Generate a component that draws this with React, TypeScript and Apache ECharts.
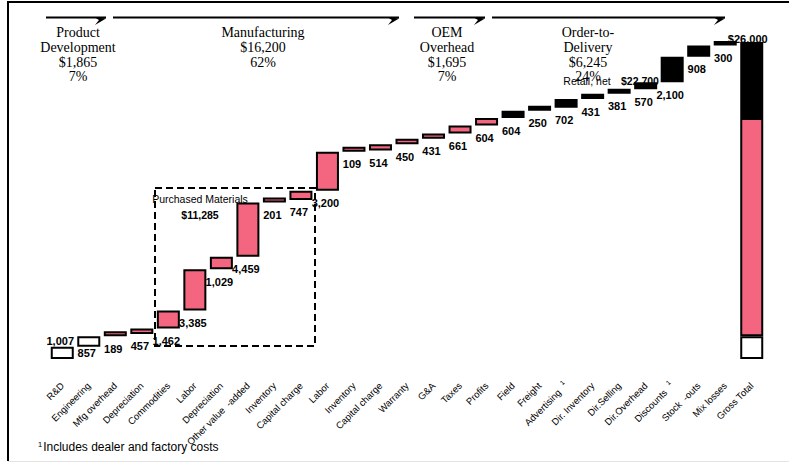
import React, { useEffect, useRef } from "react";
import * as echarts from "echarts";

// ---------- data ----------
const categories = [
  "R&D", "Engineering", "Mfg overhead", "Depreciation", "Commodities", "Labor",
  "Depreciation", "Other value  -added", "Inventory", "Capital charge", "Labor",
  "Inventory", "Capital charge", "Warranty", "G&A", "Taxes", "Profits", "Field",
  "Freight", "Advertising", "Dir. Inventory", "Dir.Selling", "Dir.Overhead",
  "Discounts", "Stock  -outs", "Mix losses", "Gross Total",
];
const footnotedCategories = ["Advertising", "Discounts"];
const stepValues = [
  1007, 857, 189, 457, 1462, 3385, 1029, 4459, 201, 747, 3200, 109, 514, 450,
  431, 661, 604, 604, 250, 702, 431, 381, 570, 2100, 908, 300,
];
// phase of each step: d = product development, m = manufacturing, o = OEM overhead, t = order-to-delivery
const stepPhase = [
  "d", "d", "m", "m", "m", "m", "m", "m", "m", "m", "m", "m", "m", "m",
  "o", "o", "o", "t", "t", "t", "t", "t", "t", "t", "t", "t",
];
const grossTotal = 26000;
const grossParts = [1865, 17895, 6245]; // development, manufacturing + OEM, order-to-delivery
const phaseHeaders = [
  { lines: ["Product", "Development", "$1,865", "7%"] },
  { lines: ["Manufacturing", "$16,200", "62%"] },
  { lines: ["OEM", "Overhead", "$1,695", "7%"] },
  { lines: ["Order-to-", "Delivery", "$6,245", "24%"] },
];
const purchasedMaterialsLabel = ["Purchased Materials", "$11,285"];
const retailNetLabel = ["Retail, net", "$22,700"];
const footnote = "Includes dealer and factory costs";

// ---------- styles ----------
const PINK = "#F4667F";
const NARROW = "'Liberation Sans Narrow', 'Arial Narrow', 'Liberation Sans', Arial, sans-serif";
const SERIF = "'Liberation Serif', 'Times New Roman', serif";
const phaseColor: Record<string, string> = { d: "#ffffff", m: PINK, o: PINK, t: "#000000" };

function buildOption() {
  const n = categories.length;
  const base: (number | string)[] = [];
  let run = 0;
  stepValues.forEach((v) => {
    base.push(run);
    run += v;
  });
  base.push(0);

  const stepData: any[] = stepValues.map((v, i) => {
    const item: any = {
      value: v,
      itemStyle: { color: phaseColor[stepPhase[i]], borderColor: "#000", borderWidth: 2 },
    };
    if (i === 0) item.label = { position: "top", distance: 0, offset: [-2, 0] };
    if (i === 1) item.label = { distance: 1 };
    return item;
  });
  stepData.push("-");

  const only = (v: number) => categories.map((_, i) => (i === n - 1 ? v : "-"));

  const barWidth = 23;
  const valueLabel = {
    show: true,
    position: "bottom",
    distance: 7,
    offset: [-2, 0],
    fontFamily: NARROW,
    fontSize: 11,
    fontWeight: "bold",
    color: "#000",
    formatter: (p: any) => Number(p.value).toLocaleString("en-US"),
  };

  const graphic: any[] = [];
  // frame
  graphic.push({ type: "line", z: 0, shape: { x1: 7, y1: 2, x2: 789, y2: 2 }, style: { stroke: "#000", lineWidth: 2 } });
  graphic.push({ type: "line", z: 0, shape: { x1: 8, y1: 1, x2: 8, y2: 461 }, style: { stroke: "#000", lineWidth: 2 } });
  graphic.push({ type: "line", z: 0, shape: { x1: 8, y1: 461.5, x2: 789, y2: 461.5 }, style: { stroke: "#e4e4e4", lineWidth: 1 } });

  // phase arrows
  const arrowSpans = [[46, 106], [113, 399], [414, 485], [492, 725]];
  const headerCenters = [78, 263, 447, 588];
  arrowSpans.forEach(([a, b]) => {
    graphic.push({ type: "line", z: 5, shape: { x1: a, y1: 17.5, x2: b, y2: 17.5 }, style: { stroke: "#000", lineWidth: 2 } });
    graphic.push({
      type: "polygon", z: 5,
      shape: { points: [[b - 12, 17], [b, 18.5], [b - 11, 25], [b - 7, 20]] },
      style: { fill: "#000" },
    });
  });
  phaseHeaders.forEach((h, i) => {
    graphic.push({
      type: "text", z: 5,
      style: {
        text: h.lines.join("\n"), x: headerCenters[i], y: 25.5,
        align: "center", textAlign: "center", verticalAlign: "top", textVerticalAlign: "top",
        fontFamily: SERIF, fontSize: 14, lineHeight: 14.7, fill: "#000",
      },
    });
  });

  // purchased materials box
  graphic.push({
    type: "rect", z: 0,
    shape: { x: 155, y: 188, width: 160, height: 158 },
    style: { fill: "none", stroke: "#000", lineWidth: 2, lineDash: [7, 4] },
  });
  graphic.push({
    type: "text", z: 5,
    style: {
      text: purchasedMaterialsLabel[0], x: 200, y: 199, align: "center", textAlign: "center",
      verticalAlign: "middle", textVerticalAlign: "middle", fontFamily: NARROW, fontSize: 10.5, fill: "#000",
    },
  });
  graphic.push({
    type: "text", z: 5,
    style: {
      text: purchasedMaterialsLabel[1], x: 200, y: 214.5, align: "center", textAlign: "center",
      verticalAlign: "middle", textVerticalAlign: "middle", fontFamily: NARROW, fontSize: 10.5, fontWeight: "bold", fill: "#000",
    },
  });
  // retail net
  graphic.push({
    type: "text", z: 5,
    style: {
      text: retailNetLabel[0], x: 587, y: 80.5, align: "center", textAlign: "center",
      verticalAlign: "middle", textVerticalAlign: "middle", fontFamily: NARROW, fontSize: 10.5, fill: "#000",
    },
  });
  graphic.push({
    type: "text", z: 5,
    style: {
      text: retailNetLabel[1], x: 621, y: 80.5, align: "left", textAlign: "left",
      verticalAlign: "middle", textVerticalAlign: "middle", fontFamily: NARROW, fontSize: 10.5, fontWeight: "bold", fill: "#000",
    },
  });
  // footnote
  graphic.push({
    type: "text", z: 5,
    style: {
      text: "{sup|1}{t|" + footnote + "}", x: 38, y: 447,
      align: "left", textAlign: "left", verticalAlign: "middle", textVerticalAlign: "middle",
      rich: {
        sup: { fontFamily: NARROW, fontSize: 7.5, verticalAlign: "top", padding: [0, 1, 5, 0], fill: "#000" },
        t: { fontFamily: NARROW, fontSize: 12, fill: "#000" },
      },
    },
  });

  return {
    animation: false,
    backgroundColor: "#fff",
    grid: { left: 49, right: 24, top: 42, bottom: 104, containLabel: false },
    xAxis: {
      type: "category",
      data: categories,
      axisLine: { show: false },
      axisTick: { show: false },
      axisLabel: {
        interval: 0,
        rotate: 45,
        margin: 25,
        fontFamily: NARROW,
        fontSize: 9.5,
        color: "#000",
        formatter: (v: string) =>
          footnotedCategories.includes(v) ? `{c|${v}}{sup|1}` : `{c|${v}}`,
        rich: {
          c: { fontFamily: NARROW, fontSize: 9.5, color: "#000" },
          sup: { fontFamily: NARROW, fontSize: 6.5, color: "#000", verticalAlign: "top", padding: [0, 0, 8, 6] },
        },
      },
    },
    yAxis: {
      type: "value",
      min: 0,
      max: grossTotal,
      show: false,
      splitLine: { show: false },
    },
    series: [
      {
        name: "base", type: "bar", stack: "w", barWidth, silent: true,
        itemStyle: { color: "transparent", borderWidth: 0 },
        data: base,
      },
      {
        name: "step", type: "bar", stack: "w", barWidth, barMinHeight: 5,
        label: valueLabel,
        data: stepData,
      },
      {
        name: "grossDev", type: "bar", stack: "w", barWidth,
        itemStyle: { color: "#fff", borderColor: "#000", borderWidth: 2 },
        data: only(grossParts[0]),
      },
      {
        name: "grossMfg", type: "bar", stack: "w", barWidth,
        itemStyle: { color: PINK, borderColor: "#000", borderWidth: 2 },
        data: only(grossParts[1]),
      },
      {
        name: "grossDelivery", type: "bar", stack: "w", barWidth,
        itemStyle: { color: "#000", borderColor: "#000", borderWidth: 2 },
        label: {
          show: true, position: "top", distance: -3, offset: [-4, 0],
          fontFamily: NARROW, fontSize: 11, fontWeight: "bold", color: "#000",
          formatter: () => "$" + grossTotal.toLocaleString("en-US"),
        },
        data: only(grossParts[2]),
      },
    ],
    graphic,
  };
}

export default function App() {
  const ref = useRef<HTMLDivElement>(null);
  useEffect(() => {
    const chart = echarts.init(ref.current!, null, { renderer: "svg" });
    chart.setOption(buildOption() as any);
    return () => chart.dispose();
  }, []);
  return (
    <div
      ref={ref}
      style={{ position: "fixed", left: 0, top: 0, width: 789, height: 463, background: "#fff" }}
    />
  );
}
